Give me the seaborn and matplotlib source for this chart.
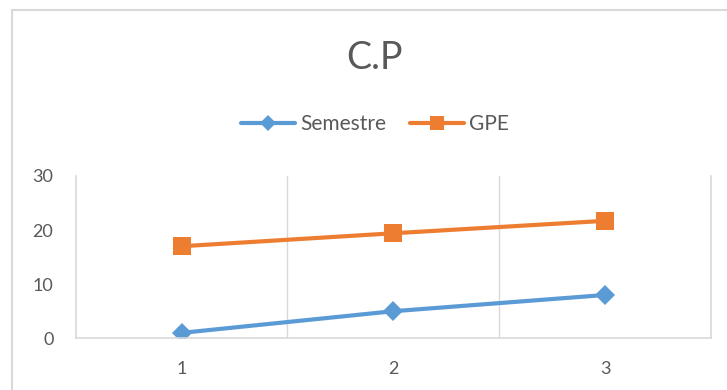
import matplotlib
matplotlib.use("Agg")
import matplotlib.pyplot as plt
import seaborn as sns
import pandas as pd
from matplotlib.patches import Rectangle

# Data
semesters = [1, 2, 3]
semestre_vals = [1, 5, 8]
gpe_vals = [17, 19.4, 21.7]
series_names = ["Semestre", "GPE"]
series_colors = ["#5B9BD5", "#ED7D31"]
series_markers = ["D", "s"]

df = pd.DataFrame({
    "x": semesters * 2,
    "y": semestre_vals + gpe_vals,
    "serie": [series_names[0]] * 3 + [series_names[1]] * 3,
})

sns.set_style("white")
plt.rcParams["font.family"] = ["Lato", "DejaVu Sans"]

fig = plt.figure(figsize=(7.27, 3.90), dpi=100)
ax = fig.add_axes([0.104, 0.1326, 0.874, 0.4164])

sns.lineplot(data=df, x="x", y="y", hue="serie", style="serie",
             palette=series_colors, markers=series_markers, dashes=False,
             linewidth=3, markeredgewidth=0, ax=ax)

# diamonds and squares of about the same extent, as in Excel
marker_sizes = {"D": 10.5, "s": 12.5}
for line in ax.lines:
    m = line.get_marker()
    if m in marker_sizes:
        line.set_markersize(marker_sizes[m])

ax.set_xlim(0.5, 3.5)
ax.set_ylim(0, 30)
ax.set_xticks(semesters)
ax.set_xticklabels([str(s) for s in semesters])
ax.set_yticks([0, 10, 20, 30])
ax.set_xlabel("")
ax.set_ylabel("")

# vertical gridlines between categories
ax.set_xticks([1.5, 2.5], minor=True)
ax.grid(True, axis="x", which="minor", color="#d9d9d9", linewidth=1)
ax.tick_params(axis="both", which="both", length=0, colors="#595959", labelsize=13)
ax.tick_params(axis="y", pad=16)
ax.tick_params(axis="x", pad=16)

for side in ["left", "right", "bottom"]:
    ax.spines[side].set_color("#d9d9d9")
    ax.spines[side].set_linewidth(1.2)
ax.spines["top"].set_visible(False)

ax.get_legend().remove()
handles, labels = ax.get_legend_handles_labels()
leg = fig.legend(handles, labels, loc="center", bbox_to_anchor=(375 / 727, 1 - 124 / 390),
                 ncol=2, frameon=False, fontsize=15, handlelength=2.6,
                 handletextpad=0.25, columnspacing=1.15, labelcolor="#595959")
legend_sizes = {"D": 8.5, "s": 9.5}
for h in leg.legend_handles:
    m = h.get_marker()
    if m in legend_sizes:
        h.set_markersize(legend_sizes[m])

fig.text(375 / 727, 1 - 58 / 390, "C.P", ha="center", va="center",
         fontsize=27, color="#595959")

# chart area border
fig.patches.append(Rectangle((11.6 / 727, -0.1), 1.2, 1 - 10 / 390 + 0.1,
                             transform=fig.transFigure, fill=False,
                             edgecolor="#d9d9d9", linewidth=1.5, zorder=0))

fig.savefig("out.png", dpi=100)
